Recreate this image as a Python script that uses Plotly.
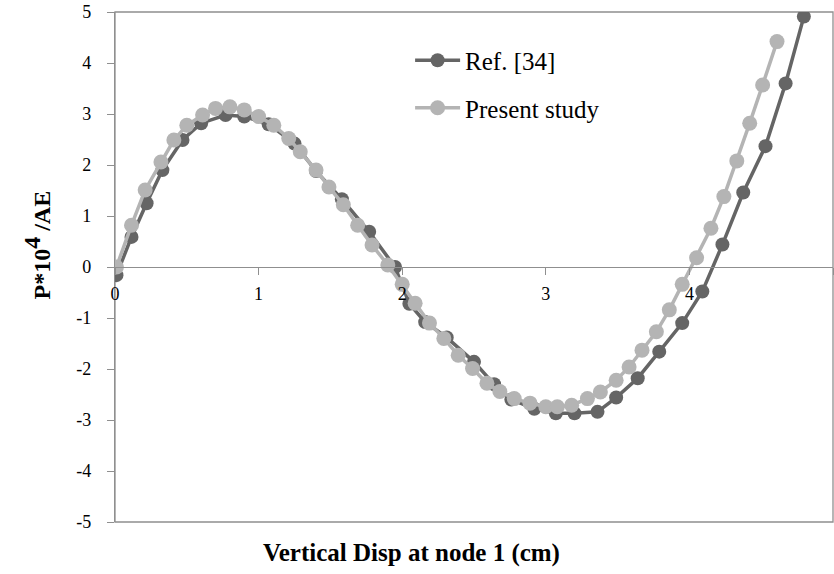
import plotly.graph_objects as go

# Ref. [34] (dark series)
ref_x = [0.01, 0.115, 0.22, 0.33, 0.47, 0.60, 0.77, 0.90, 1.07, 1.25, 1.40, 1.58, 1.77, 1.95,
         2.05, 2.16, 2.31, 2.50, 2.64, 2.76, 2.92, 3.07, 3.20, 3.36, 3.49, 3.64, 3.79, 3.95,
         4.09, 4.23, 4.375, 4.53, 4.67, 4.797]
ref_y = [-0.16, 0.59, 1.25, 1.90, 2.49, 2.82, 2.98, 2.95, 2.80, 2.42, 1.88, 1.33, 0.69, 0.0,
         -0.72, -1.08, -1.38, -1.86, -2.30, -2.60, -2.78, -2.87, -2.87, -2.84, -2.56, -2.18, -1.66, -1.10,
         -0.48, 0.44, 1.46, 2.37, 3.60, 4.91]

# Present study (light series)
pres_x = [0.01, 0.115, 0.21, 0.32, 0.41, 0.50, 0.61, 0.70, 0.80, 0.90, 1.00, 1.106, 1.21, 1.29,
          1.40, 1.49, 1.59, 1.69, 1.79, 1.90, 2.0, 2.09, 2.19, 2.29, 2.39, 2.49, 2.59, 2.68,
          2.78, 2.89, 3.0, 3.08, 3.18, 3.29, 3.38, 3.49, 3.58, 3.67, 3.77, 3.86, 3.95, 4.05,
          4.15, 4.24, 4.33, 4.42, 4.51, 4.61]
pres_y = [0.0, 0.82, 1.51, 2.06, 2.49, 2.78, 2.98, 3.11, 3.14, 3.08, 2.95, 2.78, 2.52, 2.26,
          1.90, 1.57, 1.22, 0.82, 0.43, 0.04, -0.34, -0.71, -1.10, -1.40, -1.73, -1.99, -2.28, -2.44,
          -2.58, -2.67, -2.74, -2.74, -2.71, -2.58, -2.45, -2.22, -1.96, -1.63, -1.27, -0.84, -0.34, 0.18,
          0.76, 1.38, 2.08, 2.82, 3.57, 4.42]

x_ticks = [0, 1, 2, 3, 4, 5]
y_ticks = [-5, -4, -3, -2, -1, 0, 1, 2, 3, 4, 5]

DARK = "#656565"
LIGHT = "#b4b4b4"
AXIS = "#8f8f8f"
SERIF = "'Liberation Serif', 'Times New Roman', serif"

fig = go.Figure()
fig.add_trace(go.Scatter(x=ref_x, y=ref_y, mode="lines+markers", name="Ref. [34]",
                         legendgroup="a",
                         line=dict(color=DARK, width=3.5),
                         marker=dict(color=DARK, size=14)))
fig.add_trace(go.Scatter(x=pres_x, y=pres_y, mode="lines+markers", name="Present study",
                         legendgroup="b",
                         line=dict(color=LIGHT, width=3.5),
                         marker=dict(color=LIGHT, size=15)))

fig.update_layout(
    width=834, height=574,
    margin=dict(l=115, r=1, t=12, b=52),
    paper_bgcolor="white", plot_bgcolor="white",
    font=dict(family=SERIF, color="black", size=18),
    showlegend=True,
    legend=dict(x=0.411, y=0.95, xanchor="left", yanchor="top",
                font=dict(family=SERIF, size=25, color="black"),
                bgcolor="rgba(0,0,0,0)", itemwidth=45, tracegroupgap=12,
                traceorder="grouped"),
    xaxis=dict(range=[0, 5], tickvals=x_ticks, ticktext=[str(v) for v in x_ticks],
               anchor="free", position=0.5, showline=True, linecolor=AXIS, linewidth=1.3,
               ticks="outside", ticklen=7, tickcolor=AXIS, tickwidth=1.3,
               showgrid=False, zeroline=False, automargin=False,
               tickfont=dict(family=SERIF, size=18, color="black"), ticklabelstandoff=3),
    yaxis=dict(range=[-5, 5], tickvals=y_ticks, ticktext=[str(v) for v in y_ticks],
               showline=True, linecolor=AXIS, linewidth=1.3,
               ticks="outside", ticklen=7, tickcolor=AXIS, tickwidth=1.3,
               showgrid=False, zeroline=False, automargin=False,
               tickfont=dict(family=SERIF, size=18, color="black"), ticklabelstandoff=12),
    shapes=[dict(type="rect", xref="paper", yref="paper", x0=0, x1=1, y0=0, y1=1,
                 line=dict(color=AXIS, width=1.3), layer="below")],
    annotations=[
        dict(text="<b>Vertical Disp at node 1 (cm)</b>", xref="paper", yref="paper",
             x=0.4127, y=-0.0614, xanchor="center", yanchor="middle", showarrow=False,
             font=dict(family=SERIF, size=25, color="black")),
        dict(text="<b>P*10<sup><span style='font-size:24px'>4</span></sup> /AE</b>",
             xref="paper", yref="paper",
             x=-0.108, y=0.543, xanchor="center", yanchor="middle", showarrow=False,
             textangle=-90, font=dict(family=SERIF, size=24, color="black")),
    ],
)

fig.write_html("out.html")
